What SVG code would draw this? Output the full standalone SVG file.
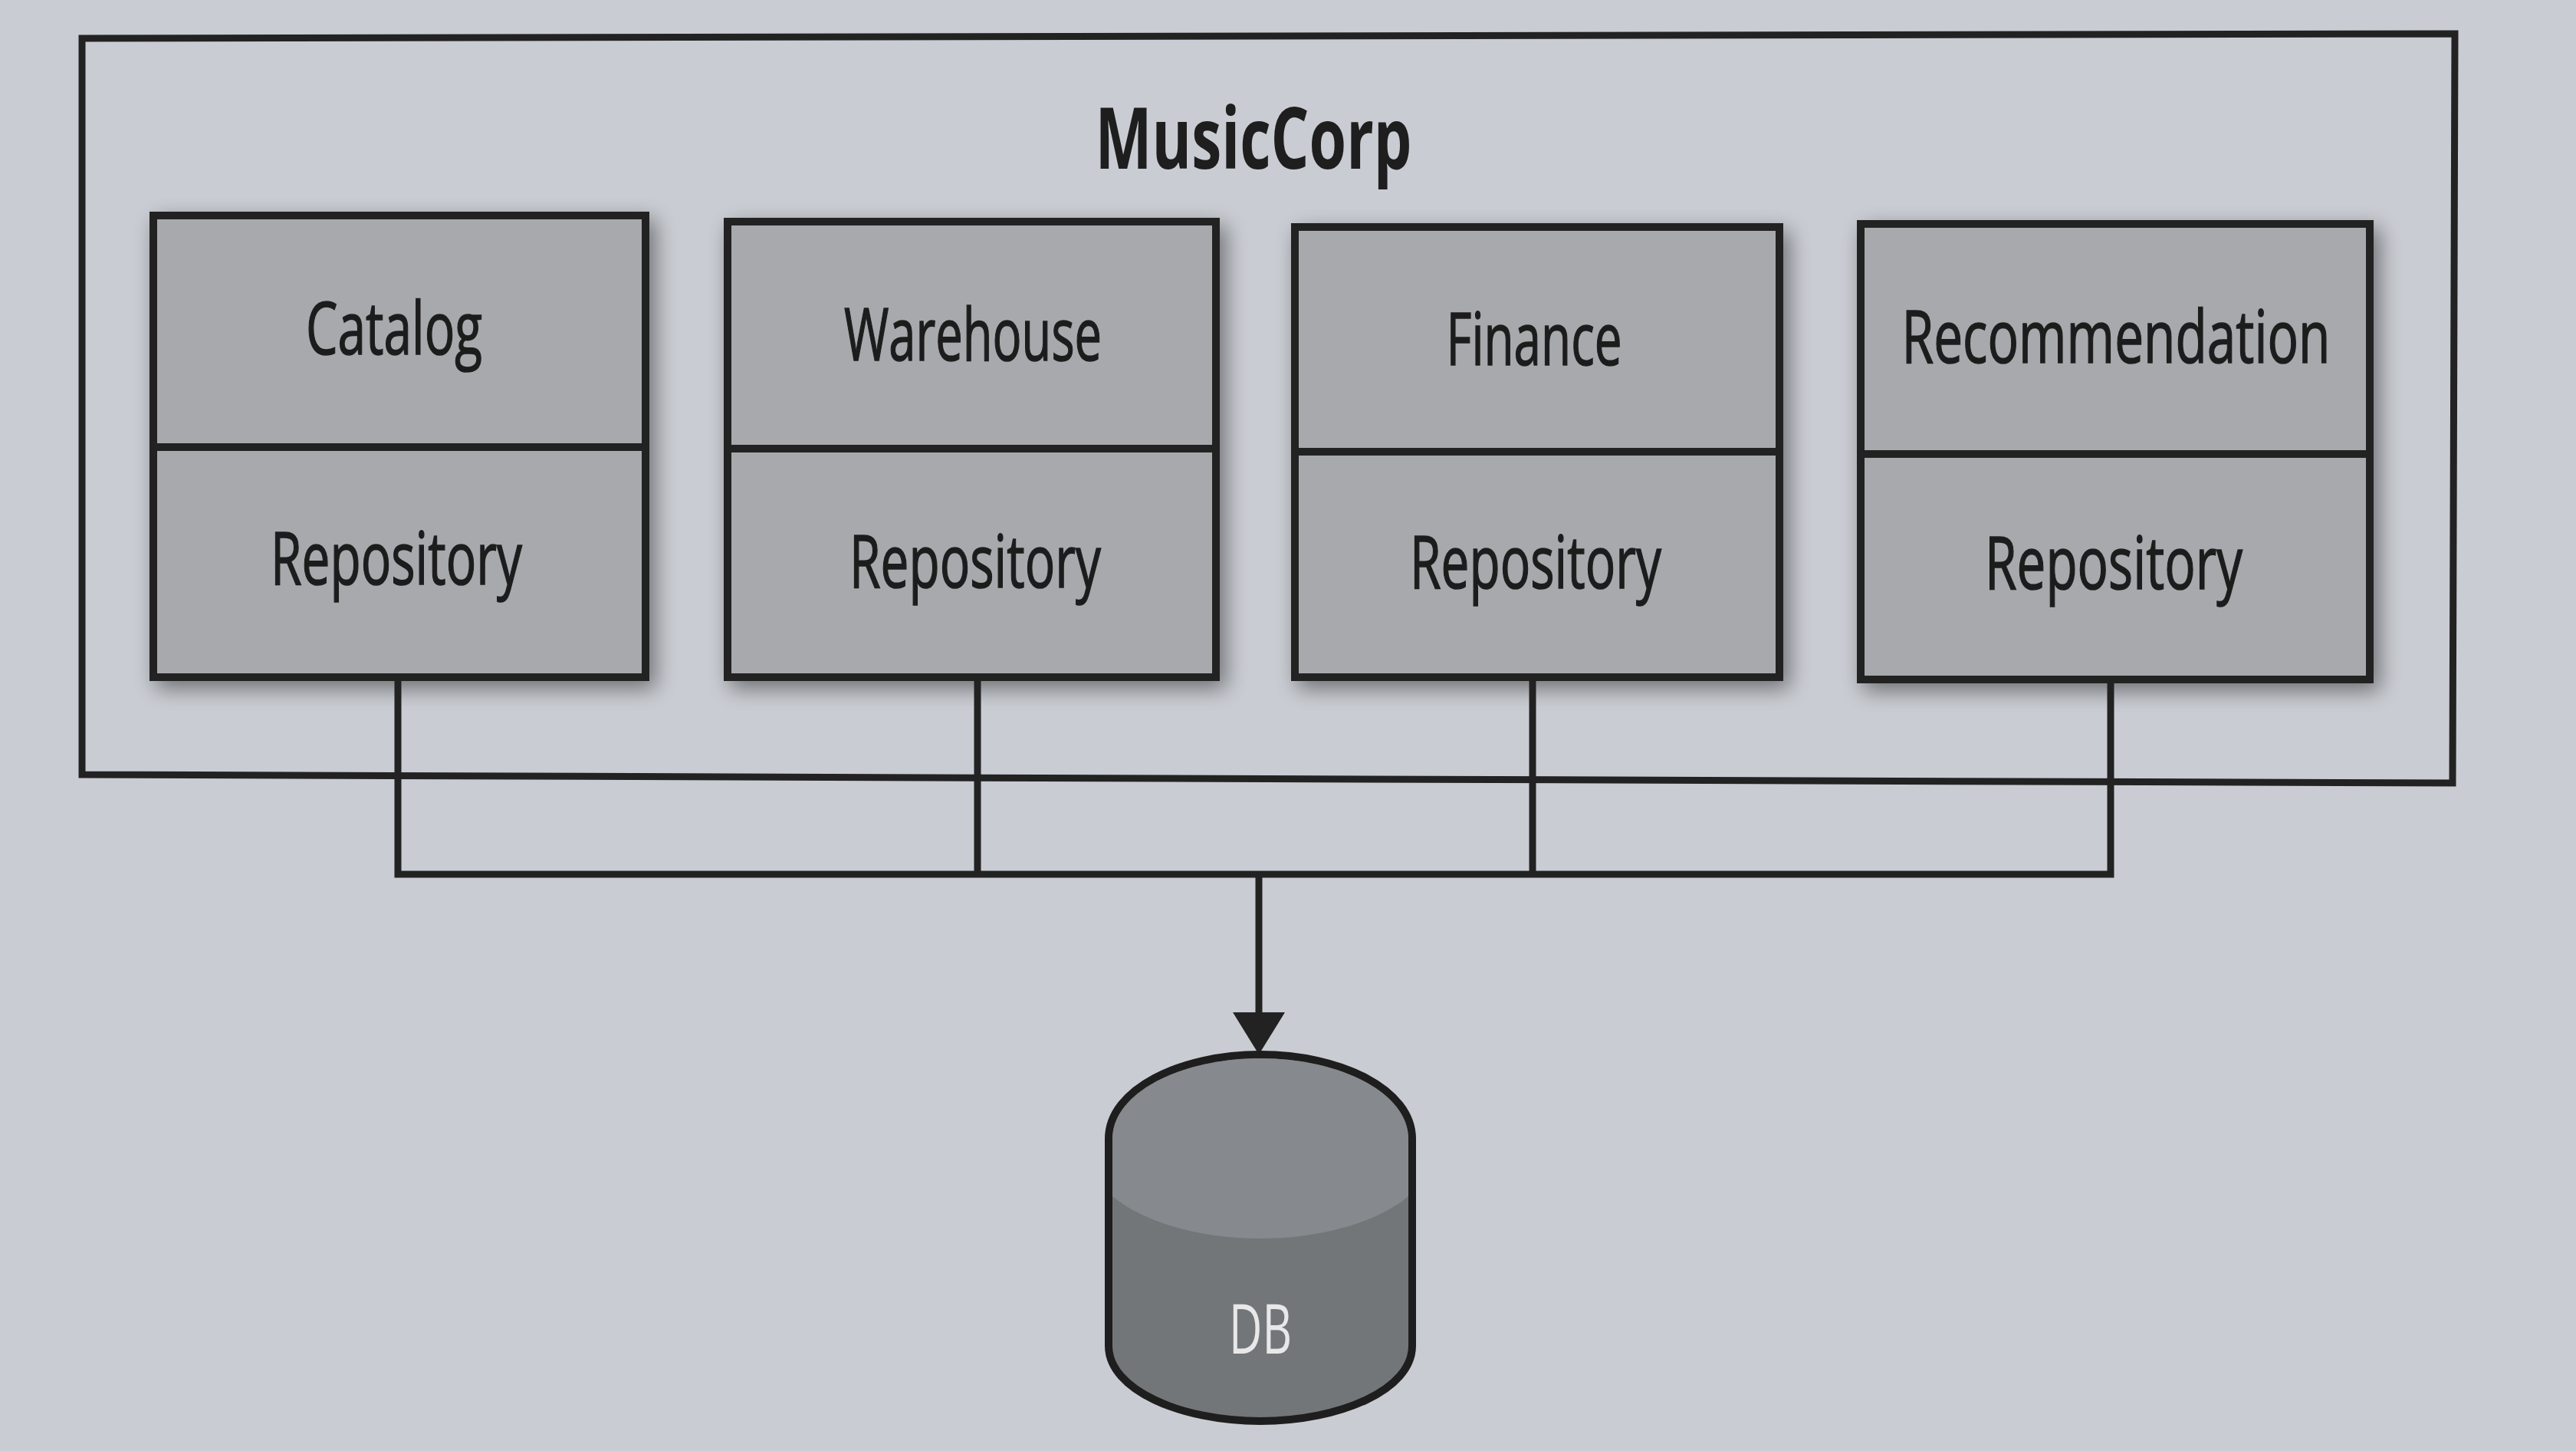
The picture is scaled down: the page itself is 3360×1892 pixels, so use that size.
<svg xmlns="http://www.w3.org/2000/svg" width="3360" height="1892" viewBox="0 0 3360 1892">
<defs>
<style>
.bg{fill:#c9ccd2}
.frame{fill:none;stroke:#222;stroke-width:9}
.svc{fill:#a8a9ad;stroke:#222;stroke-width:10}
.div{stroke:#222;stroke-width:10}
.lbl{font-family:"Liberation Sans Narrow","Open Sans","Liberation Sans",sans-serif;font-size:96px;fill:#1e1e1e;stroke:#1e1e1e;stroke-width:1.6;text-anchor:middle}
.title{font-family:"Liberation Sans Narrow","Open Sans","Liberation Sans",sans-serif;font-size:112px;font-weight:bold;fill:#1e1e1e;text-anchor:middle}
.conn{fill:none;stroke:#222;stroke-width:9}
.db{fill:#737679;stroke:#1e1e1e;stroke-width:10}
.dbtxt{font-family:"Liberation Sans Narrow","Open Sans","Liberation Sans",sans-serif;font-size:90px;fill:#e8e8e8;text-anchor:middle}
</style>
<filter id="sh" x="-10%" y="-10%" width="125%" height="125%">
<feGaussianBlur in="SourceAlpha" stdDeviation="14"/>
<feOffset dx="8" dy="10" result="b"/>
<feComponentTransfer><feFuncA type="linear" slope="0.45"/></feComponentTransfer>
<feMerge><feMergeNode/><feMergeNode in="SourceGraphic"/></feMerge>
</filter>
</defs>
<rect class="bg" x="0" y="0" width="3360" height="1892"/>

<g id="musiccorp">
<path class="frame" d="M107,50 L3202,44 L3199,1021 L107,1010 Z"/>
<text class="title" x="1635" y="220" textLength="413" lengthAdjust="spacingAndGlyphs">MusicCorp</text>
</g>

<g id="catalog" filter="url(#sh)">
<rect class="svc" x="200" y="281" width="642" height="602"/>
<line class="div" x1="200" y1="583" x2="842" y2="583"/>
<text class="lbl" x="514" y="462" textLength="230" lengthAdjust="spacingAndGlyphs">Catalog</text>
<text class="lbl" x="517" y="762" textLength="328" lengthAdjust="spacingAndGlyphs">Repository</text>
</g>

<g id="warehouse" filter="url(#sh)">
<rect class="svc" x="949" y="289" width="637" height="594"/>
<line class="div" x1="949" y1="585" x2="1586" y2="585"/>
<text class="lbl" x="1269" y="470" textLength="336" lengthAdjust="spacingAndGlyphs">Warehouse</text>
<text class="lbl" x="1272" y="766" textLength="328" lengthAdjust="spacingAndGlyphs">Repository</text>
</g>

<g id="finance" filter="url(#sh)">
<rect class="svc" x="1689" y="296" width="632" height="587"/>
<line class="div" x1="1689" y1="589" x2="2321" y2="589"/>
<text class="lbl" x="2001" y="476" textLength="229" lengthAdjust="spacingAndGlyphs">Finance</text>
<text class="lbl" x="2003" y="767" textLength="328" lengthAdjust="spacingAndGlyphs">Repository</text>
</g>

<g id="recommendation" filter="url(#sh)">
<rect class="svc" x="2427" y="292" width="664" height="594"/>
<line class="div" x1="2427" y1="592" x2="3091" y2="592"/>
<text class="lbl" x="2760" y="473" textLength="559" lengthAdjust="spacingAndGlyphs">Recommendation</text>
<text class="lbl" x="2757" y="768" textLength="336" lengthAdjust="spacingAndGlyphs">Repository</text>
</g>

<g id="connectors">
<path class="conn" d="M519,883 V1140 H2753 V886"/>
<path class="conn" d="M1275,883 V1140"/>
<path class="conn" d="M1999,883 V1140"/>
<path class="conn" d="M1642,1140 V1325"/>
<path d="M1608,1320 L1676,1320 L1642,1375 Z" fill="#222"/>
</g>

<g id="db">
<path class="db" d="M1446,1485 C1446,1420 1540,1375 1644,1375 C1748,1375 1842,1420 1842,1485 V1755 C1842,1812 1748,1853 1644,1853 C1540,1853 1446,1812 1446,1755 Z"/>
<path d="M1451,1560 C1500,1600 1580,1615 1644,1615 C1708,1615 1788,1600 1837,1560 V1485 C1837,1425 1748,1380 1644,1380 C1540,1380 1451,1425 1451,1485 Z" fill="#86898d"/>
<text class="dbtxt" x="1644" y="1765" textLength="82" lengthAdjust="spacingAndGlyphs">DB</text>
</g>
</svg>
